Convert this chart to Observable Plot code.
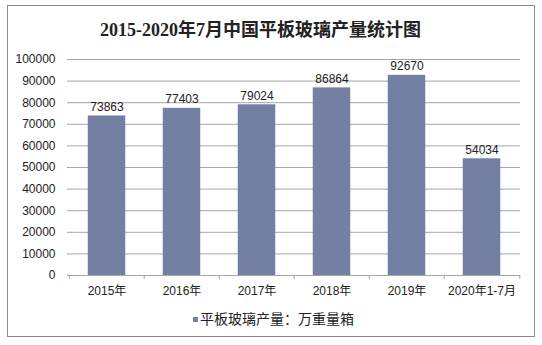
<!DOCTYPE html>
<html>
<head>
<meta charset="utf-8">
<script src="https://cdn.jsdelivr.net/npm/d3@7"></script>
<script src="https://cdn.jsdelivr.net/npm/@observablehq/plot@0.6"></script>
<style>
  html, body { margin: 0; padding: 0; background: #fff; }
  #wrap { position: relative; width: 542px; height: 345px; overflow: hidden; font-family: "Liberation Sans", Arial, "Noto Sans CJK SC", sans-serif; }
  #frame { position: absolute; left: 7px; top: 5px; width: 528px; height: 332px; border: 1px solid #8c8c8c; box-sizing: border-box; }
  #title { position: absolute; left: 0; width: 521px; top: 18px; text-align: center; font-family: "Liberation Serif", "DejaVu Serif", "Noto Sans CJK SC", serif; font-weight: bold; font-size: 18px; color: #222; line-height: 24px; }
  #chart { position: absolute; left: 0; top: 0; }
  #legend { position: absolute; left: 193px; top: 308px; font-family: "Noto Sans CJK SC", sans-serif; font-size: 14px; color: #222; line-height: 20px; white-space: nowrap; }
  #legend .sw { display: inline-block; width: 5px; height: 5px; margin-right: 2px; vertical-align: middle; position: relative; top: -1px; }
</style>
</head>
<body>
<div id="wrap">
  <div id="frame"></div>
  <div id="chart"></div>
  <div id="title"></div>
  <div id="legend"></div>
</div>
<script>
const titleText = "2015-2020年7月中国平板玻璃产量统计图";
const seriesName = "平板玻璃产量：万重量箱";
const categories = ["2015年", "2016年", "2017年", "2018年", "2019年", "2020年1-7月"];
const values = [73863, 77403, 79024, 86864, 92670, 54034];
const yTicks = [0, 10000, 20000, 30000, 40000, 50000, 60000, 70000, 80000, 90000, 100000];
const barColor = "#737fa3";

const data = categories.map((c, i) => ({category: c, value: values[i]}));

const W = 542, H = 345;
const mL = 67, mR = 22, mT = 59, mB = 70;
const bw = (W - mL - mR) / categories.length;
const barW = 38;
const inset = (bw - barW) / 2;

const chart = Plot.plot({
  width: W,
  height: H,
  marginLeft: mL,
  marginRight: mR,
  marginTop: mT,
  marginBottom: mB,
  style: {fontFamily: "'Liberation Sans', Arial, 'Noto Sans CJK SC', sans-serif", fontSize: "12px", color: "#333", background: "transparent", overflow: "visible"},
  x: {domain: categories, padding: 0, label: null},
  y: {domain: [0, 100000], label: null},
  marks: [
    Plot.ruleY(yTicks.filter(d => d > 0), {stroke: "#a6a6a6", strokeWidth: 1}),
    Plot.barY(data, {x: "category", y: "value", fill: barColor, insetLeft: inset, insetRight: inset}),
    Plot.ruleY([0], {stroke: "#a6a6a6", strokeWidth: 1}),
    Plot.ruleX(categories, {x: d => d, dx: -bw / 2, y1: 0, y2: 0, insetBottom: -4, stroke: "#a6a6a6"}),
    Plot.ruleX([categories[categories.length - 1]], {x: d => d, dx: bw / 2, y1: 0, y2: 0, insetBottom: -4, stroke: "#a6a6a6"}),
    Plot.text(data, {x: "category", y: "value", text: d => String(d.value), dy: -9, fill: "#222", fontSize: 12, textAnchor: "middle"}),
    Plot.axisY({ticks: yTicks, tickSize: 0, tickPadding: 12, tickFormat: d => String(d), fill: "#222", fontSize: 12, label: null}),
    Plot.axisX({tickSize: 0, tickPadding: 11, fill: "#222", fontSize: 12, label: null})
  ]
});
document.getElementById("chart").appendChild(chart);
document.getElementById("title").textContent = titleText;
const lg = document.getElementById("legend");
lg.innerHTML = `<span class="sw" style="background:${barColor}"></span>${seriesName}`;
</script>
</body>
</html>
